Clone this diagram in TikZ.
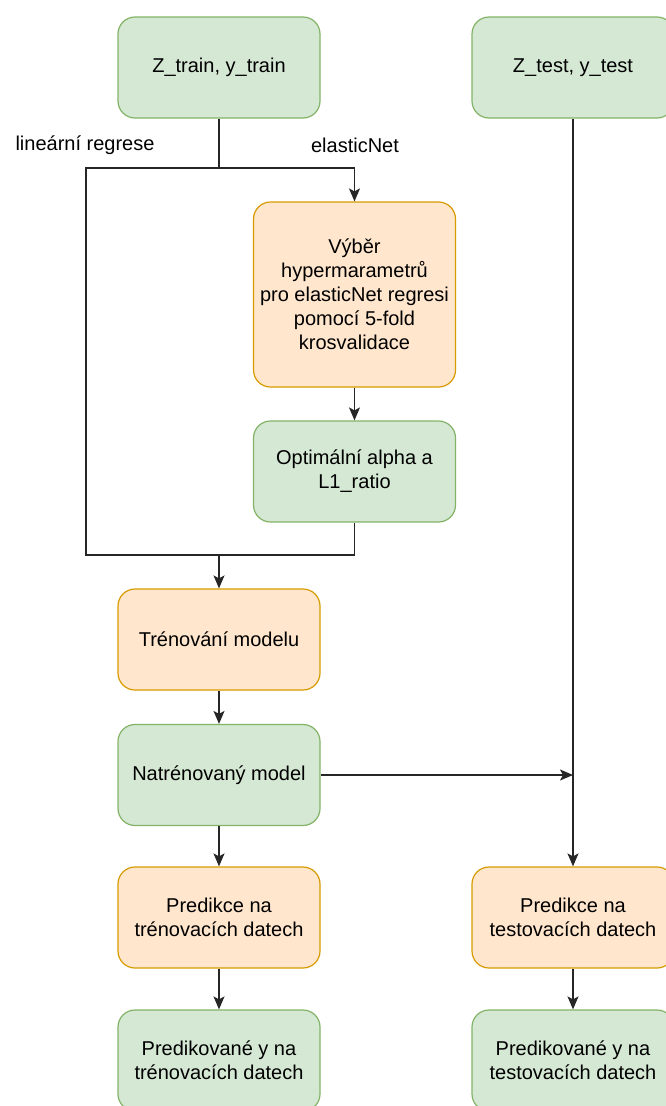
\documentclass[tikz,border=0pt]{standalone}
\usepackage{fontspec}
\setmainfont{Liberation Sans}
\usetikzlibrary{arrows.meta}

\definecolor{greenfill}{HTML}{D5E8D4}
\definecolor{greenline}{HTML}{82B366}
\definecolor{orangefill}{HTML}{FFE6CC}
\definecolor{orangeline}{HTML}{D79B00}

\begin{document}
\begin{tikzpicture}[x=1pt,y=-1pt,
    box/.style={rounded corners=17pt, line width=1.2pt, minimum width=202pt,
        minimum height=101pt, align=center, inner sep=2pt,
        font=\fontsize{20}{24}\selectfont},
    greenbox/.style={box, draw=greenline, fill=greenfill},
    orangebox/.style={box, draw=orangeline, fill=orangefill},
    flow/.style={line width=1.4pt, draw=black!85},
    arrow/.style={flow, -{Stealth[length=13pt,width=11pt,inset=3pt]}},
    lbl/.style={font=\fontsize{20}{24}\selectfont, inner sep=0pt}]
            \useasboundingbox (0,0) rectangle (666,1106);
            \clip (0,0) rectangle (666,1106);
            % boxes
            \node [greenbox] (ztrain) at (219,67.5) {Z\_train, y\_train};
            \node [greenbox] (ztest) at (573,67.5) {Z\_test, y\_test};
            \node [orangebox, minimum height=185pt] (vyber) at (354.5,294.5)
                {Výběr\\hypermarametrů\\pro elasticNet regresi\\pomocí 5-fold\\krosvalidace};
            \node [greenbox] (optim) at (354.5,471.5) {Optimální alpha a\\L1\_ratio};
            \node [orangebox] (trenovani) at (219,639.5) {Trénování modelu};
            \node [greenbox] (natren) at (219,775) {Natrénovaný model};
            \node [orangebox] (predtrain) at (219,917.5) {Predikce na\\trénovacích datech};
            \node [orangebox] (predtest) at (573,917.5) {Predikce na\\testovacích datech};
            \node [greenbox] (predytrain) at (219,1060.5) {Predikované y na\\trénovacích datech};
            \node [greenbox] (predytest) at (573,1060.5) {Predikované y na\\testovacích datech};
            % labels
            \node [lbl] (linlabel) at (85,145) {lineární regrese};
            \node [lbl] (enlabel) at (355,145) {elasticNet};
            % connectors
            \coordinate (split) at (219,168);
            \coordinate (leftturn) at (86,168);
            \coordinate (join) at (219,555);
            \coordinate (merge) at (573,775);
            \draw [flow] (ztrain.south) -- (split);
            \draw [arrow] (split) -| (vyber.north);
            \draw [flow] (split) -- (leftturn) |- (join);
            \draw [flow] (optim.south) |- (join);
            \draw [arrow] (vyber.south) -- (optim.north);
            \draw [arrow] (join) -- (trenovani.north);
            \draw [arrow] (trenovani.south) -- (natren.north);
            \draw [arrow] (natren.east) -- (merge);
            \draw [arrow] (ztest.south) -- (predtest.north);
            \draw [arrow] (natren.south) -- (predtrain.north);
            \draw [arrow] (predtrain.south) -- (predytrain.north);
            \draw [arrow] (predtest.south) -- (predytest.north);
        \end{tikzpicture}
\end{document}
